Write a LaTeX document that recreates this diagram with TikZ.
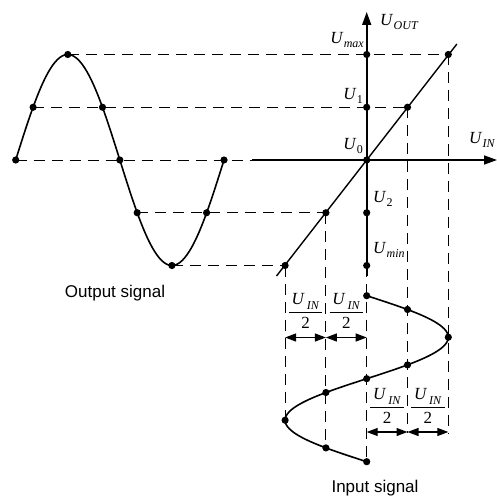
\documentclass[tikz,border=0pt]{standalone}
\usepackage{amsmath}
\usepackage{fontspec}
\setmainfont{Liberation Serif}
\newfontfamily\sansf{Liberation Sans}
\usetikzlibrary{arrows.meta}
\newcommand\UU[1]{\textit{U}\kern0.3pt\raisebox{-4.5pt}{\fontsize{12}{12}\selectfont #1}}
\newcommand\halfin{$\displaystyle\frac{\hbox{\,\textit{U}\kern2pt\raisebox{-4.5pt}{\fontsize{12}{12}\selectfont\textit{IN}}\,}}{\hbox{2}}$}
\begin{document}
\begin{tikzpicture}[x=1pt,y=-1pt,
  dsh/.style={line width=1pt, dash pattern=on 11pt off 7pt},
  curve/.style={line width=1.6pt},
  axis/.style={line width=1.6pt,-{Triangle[length=13pt,width=9pt]}},
  dim/.style={line width=1.2pt,{Triangle[length=11pt,width=8pt]}-{Triangle[length=11pt,width=8pt]}},
  lab/.style={font=\fontsize{17}{20}\selectfont, inner sep=0pt},
  capt/.style={font=\sansf\fontsize{17}{20}\selectfont, inner sep=0pt}]
\useasboundingbox (0,0) rectangle (496,497);
% output signal points
\coordinate (P0) at (15.7,160);
\coordinate (Pa) at (33.1,107.25);
\coordinate (Pmax) at (67.8,54.5);
\coordinate (Pb) at (102.5,107.25);
\coordinate (Pz) at (119.85,160);
\coordinate (Pc) at (137.2,212.75);
\coordinate (Pmin) at (171.9,265.5);
\coordinate (Pd) at (206.6,212.75);
\coordinate (Pe) at (224,160);
% axis points
\coordinate (O) at (366.7,160);
\coordinate (Amax) at (366.7,54.5);
\coordinate (A1) at (366.7,107.25);
\coordinate (A2) at (366.7,212.75);
\coordinate (Amin) at (366.7,265.5);
\coordinate (Ytop) at (366.7,12);
\coordinate (Ybot) at (366.7,276);
\coordinate (Xl) at (252,160);
\coordinate (Xr) at (497,160);
% characteristic line
\coordinate (Lmax) at (448.3,54.5);
\coordinate (L1) at (407.5,107.25);
\coordinate (L2) at (325.9,212.75);
\coordinate (Lmin) at (285.1,265.5);
\coordinate (Lt) at (456.9,44);
\coordinate (Lb) at (276.5,276);
% input signal points
\coordinate (I0) at (366.7,295.7);
\coordinate (I30) at (407.5,309.5);
\coordinate (I90) at (448.3,337.2);
\coordinate (I150) at (407.5,364.9);
\coordinate (I180) at (366.7,378.7);
\coordinate (I210) at (325.9,392.5);
\coordinate (I270) at (285.1,420.2);
\coordinate (I330) at (325.9,447.9);
\coordinate (I360) at (366.7,461.7);
\coordinate (E1) at (407.5,433);
\coordinate (E2) at (448.3,433);
% dimension points
\coordinate (Da) at (285.1,337.5);
\coordinate (Db) at (325.9,337.5);
\coordinate (Dc) at (366.7,337.5);
\coordinate (Dd) at (366.7,432);
\coordinate (De) at (407.5,432);
\coordinate (Df) at (448.3,432);

% dashed helper lines
\draw[dsh] (Pmax) -- (Lmax);
\draw[dsh] (Pa) -- (L1);
\draw[dsh] (P0) -- (Xl);
\draw[dsh] (Pc) -- (L2);
\draw[dsh] (Pmin) -- (Lmin);
\draw[dsh] (Lmin) -- (I270);
\draw[dsh] (L2) -- (I330);
\draw[dsh] (Amin) -- (I360);
\draw[dsh] (L1) -- (E1);
\draw[dsh] (Lmax) -- (E2);

% axes
\draw[axis] (Ybot) -- (Ytop);
\draw[axis] (Xl) -- (Xr);
% transfer line
\draw[line width=1.4pt] (Lb) -- (Lt);

% signals
\draw[curve] plot[variable=\t, domain=0:360, samples=91, smooth] ({15.7+\t/360*208.3},{160-105.5*sin(\t)});
\draw[curve] plot[variable=\t, domain=0:360, samples=91, smooth] ({366.7+81.6*sin(\t)},{295.7+\t/360*166});

% dots
\foreach \p in {P0,Pa,Pmax,Pb,Pz,Pc,Pmin,Pd,Pe,O,Amax,A1,A2,Amin,Lmax,L1,L2,Lmin,I0,I30,I90,I150,I180,I210,I270,I330,I360}
  \fill (\p) circle (3.6);

% dimension arrows
\draw[dim] (Da) -- (Db);
\draw[dim] (Db) -- (Dc);
\draw[dim] (Dd) -- (De);
\draw[dim] (De) -- (Df);

% labels
\node[lab, anchor=west] (lout) at (380,22) {\UU{\textit{OUT}}};
\node[lab, anchor=east] (lmax) at (364,40) {\UU{\textit{max}}};
\node[lab, anchor=east] (l1) at (363,96) {\UU{1}};
\node[lab, anchor=east] (l0) at (363,146) {\UU{0}};
\node[lab, anchor=west] (l2) at (373,199) {\UU{2}};
\node[lab, anchor=west] (lmin) at (373,250) {\UU{\textit{min}}};
\node[lab, anchor=west] (lin) at (469,140) {\UU{\textit{IN}}};
\node[lab] (f1) at (305.5,311) {\halfin};
\node[lab] (f2) at (346.3,311) {\halfin};
\node[lab] (f3) at (387.1,406) {\halfin};
\node[lab] (f4) at (427.9,406) {\halfin};
\node[capt] (cout) at (115,293) {Output signal};
\node[capt] (cin) at (375,488) {Input signal};
\end{tikzpicture}
\end{document}
